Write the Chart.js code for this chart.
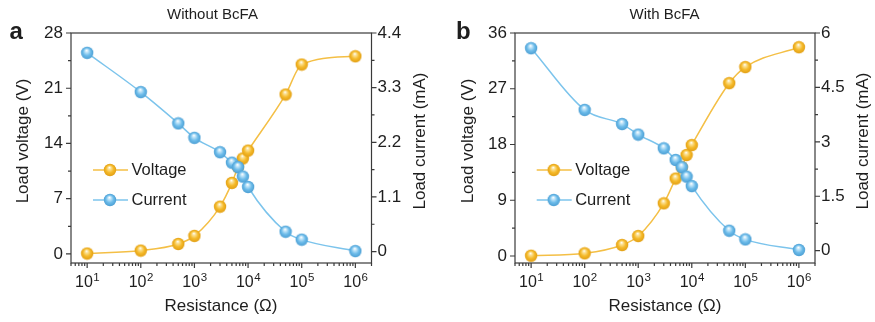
<!DOCTYPE html>
<html>
<head>
<meta charset="utf-8">
<script src="https://cdn.jsdelivr.net/npm/chart.js@4.4.1/dist/chart.umd.min.js"></script>
<style>
  html, body { margin: 0; padding: 0; background: #fff; }
  #wrap { position: relative; width: 875px; height: 322px; }
  canvas { position: absolute; top: 0; }
  #panelA { left: 0; }
  #panelB { left: 440px; }
</style>
</head>
<body>
<div id="wrap">
  <canvas id="panelA" width="440" height="322"></canvas>
  <canvas id="panelB" width="435" height="322"></canvas>
</div>
<script>
// load resistance (ohm), shared by both panels
var resistance = [10, 100, 500, 1000, 3000, 5000, 6500, 8000, 10000, 50000, 100000, 1000000];

// without BcFA
var voltageA = [0.05, 0.42, 1.26, 2.28, 5.99, 9.0, 11.0, 12.1, 13.1, 20.2, 24.0, 25.05];
var currentA = [4.0, 3.21, 2.58, 2.29, 2.0, 1.79, 1.70, 1.51, 1.30, 0.40, 0.24, 0.01];

// with BcFA
var voltageB = [0.05, 0.43, 1.77, 3.22, 8.5, 12.5, 14.3, 16.3, 17.9, 27.9, 30.5, 33.7];
var currentB = [5.58, 3.88, 3.49, 3.20, 2.82, 2.50, 2.30, 2.04, 1.78, 0.55, 0.31, 0.02];

var voltTicksA = [0, 7, 14, 21, 28];
var currTicksA = [0, 1.1, 2.2, 3.3, 4.4];
var voltTicksB = [0, 9, 18, 27, 36];
var currTicksB = [0, 1.5, 3, 4.5, 6];
var decades = [1, 2, 3, 4, 5, 6];

var FONT = '"Liberation Sans", Arial, sans-serif';
var INK = '#1e1e1e';
var AXIS = '#3a3a3a';

var YELLOW_LINE = '#F4BF45';
var BLUE_LINE = '#7CC4EC';

// little shaded ball used as the marker
function sphere(light, base, dark) {
  var s = 14, r = 6.2;
  var c = document.createElement('canvas');
  c.width = s; c.height = s;
  var g = c.getContext('2d');
  var grad = g.createRadialGradient(s / 2 - 0.6, s / 2 - 2.6, 0.2, s / 2, s / 2, r);
  grad.addColorStop(0, '#ffffff');
  grad.addColorStop(0.2, light);
  grad.addColorStop(0.6, base);
  grad.addColorStop(1, dark);
  g.fillStyle = grad;
  g.beginPath();
  g.arc(s / 2, s / 2, r, 0, Math.PI * 2);
  g.fill();
  return c;
}
var yellowBall = sphere('#FCE39A', '#F5BA2A', '#E29F14');
var blueBall = sphere('#C8E8FA', '#6DBCEA', '#4C9FD4');

// "10" with a raised exponent, centred on x
function superLabel(ctx, x, exp) {
  ctx.font = '16px ' + FONT;
  var wb = ctx.measureText('10').width;
  ctx.font = '11.5px ' + FONT;
  var we = ctx.measureText(String(exp)).width;
  var left = x - (wb + we) / 2;
  ctx.textAlign = 'left';
  ctx.textBaseline = 'alphabetic';
  ctx.font = '16px ' + FONT;
  ctx.fillText('10', left, 287);
  ctx.font = '11.5px ' + FONT;
  ctx.fillText(String(exp), left + wb + 0.5, 280.5);
}

function makePanel(id, opt) {
  var axesPlugin = {
    id: 'axesFrame',
    afterDraw: function (chart) {
      var ctx = chart.ctx;
      var a = chart.chartArea;
      var xs = chart.scales.x, yl = chart.scales.y, yr = chart.scales.y1;
      ctx.save();
      ctx.strokeStyle = AXIS;
      ctx.lineWidth = 1.2;
      ctx.strokeRect(a.left, a.top, a.right - a.left, a.bottom - a.top);

      ctx.beginPath();
      // left axis ticks
      opt.voltTicks.forEach(function (v, i) {
        var y = yl.getPixelForValue(v);
        ctx.moveTo(a.left - 5, y); ctx.lineTo(a.left, y);
        if (i < opt.voltTicks.length - 1) {
          var ym = yl.getPixelForValue((v + opt.voltTicks[i + 1]) / 2);
          ctx.moveTo(a.left - 3, ym); ctx.lineTo(a.left, ym);
        }
      });
      // right axis ticks
      opt.currTicks.forEach(function (v, i) {
        var y = yr.getPixelForValue(v);
        ctx.moveTo(a.right, y); ctx.lineTo(a.right + 5, y);
        if (i < opt.currTicks.length - 1) {
          var ym = yr.getPixelForValue((v + opt.currTicks[i + 1]) / 2);
          ctx.moveTo(a.right, ym); ctx.lineTo(a.right + 3, ym);
        }
      });
      // log ticks along the bottom
      for (var e = 0; e <= 6; e++) {
        for (var m = 1; m <= 9; m++) {
          var val = m * Math.pow(10, e);
          if (val < xs.min || val > xs.max) continue;
          var x = xs.getPixelForValue(val);
          var len = m === 1 ? 5 : 3;
          ctx.moveTo(x, a.bottom); ctx.lineTo(x, a.bottom + len);
        }
      }
      ctx.stroke();

      ctx.fillStyle = INK;
      ctx.font = '17px ' + FONT;
      ctx.textBaseline = 'middle';
      ctx.textAlign = 'right';
      opt.voltTicks.forEach(function (v) {
        ctx.fillText(String(v), a.left - 8, yl.getPixelForValue(v));
      });
      ctx.textAlign = 'left';
      opt.currTicks.forEach(function (v) {
        ctx.fillText(String(v), a.right + 6, yr.getPixelForValue(v));
      });
      decades.forEach(function (d) {
        superLabel(ctx, xs.getPixelForValue(Math.pow(10, d)), d);
      });

      // axis titles
      ctx.textAlign = 'center';
      ctx.textBaseline = 'middle';
      ctx.font = '17px ' + FONT;
      ctx.fillText('Resistance (\u03A9)', opt.xTitleX, 306);
      ctx.save();
      ctx.translate(opt.leftTitleX, 141);
      ctx.rotate(-Math.PI / 2);
      ctx.fillText('Load voltage (V)', 0, 0);
      ctx.restore();
      ctx.save();
      ctx.translate(opt.rightTitleX, 141);
      ctx.rotate(-Math.PI / 2);
      ctx.fillText('Load current (mA)', 0, 0);
      ctx.restore();

      // panel heading and letter
      ctx.font = '15px ' + FONT;
      ctx.fillText(opt.title, opt.titleX, 15);
      ctx.font = 'bold 24px ' + FONT;
      ctx.textAlign = 'left';
      ctx.textBaseline = 'alphabetic';
      ctx.fillText(opt.letter, opt.letterX, 39);

      // legend: line + ball + name
      var items = [
        { name: 'Voltage', line: YELLOW_LINE, ball: yellowBall, y: 170 },
        { name: 'Current', line: BLUE_LINE, ball: blueBall, y: 200 }
      ];
      items.forEach(function (it) {
        ctx.strokeStyle = it.line;
        ctx.lineWidth = 1.5;
        ctx.beginPath();
        ctx.moveTo(opt.legendX, it.y);
        ctx.lineTo(opt.legendX + 35, it.y);
        ctx.stroke();
        ctx.drawImage(it.ball, opt.legendX + 17 - it.ball.width / 2, it.y - it.ball.height / 2);
        ctx.fillStyle = INK;
        ctx.font = '16.5px ' + FONT;
        ctx.textBaseline = 'middle';
        ctx.fillText(it.name, opt.legendX + 38.5, it.y);
      });
      ctx.restore();
    }
  };

  return new Chart(document.getElementById(id), {
    type: 'line',
    data: {
      labels: resistance,
      datasets: [
        {
          label: 'Current',
          data: opt.current.map(function (c, i) { return { x: resistance[i], y: c }; }),
          yAxisID: 'y1',
          borderColor: BLUE_LINE,
          borderWidth: 1.5,
          pointStyle: blueBall,
          cubicInterpolationMode: 'monotone',
          order: 0
        },
        {
          label: 'Voltage',
          data: opt.voltage.map(function (v, i) { return { x: resistance[i], y: v }; }),
          yAxisID: 'y',
          borderColor: YELLOW_LINE,
          borderWidth: 1.5,
          pointStyle: yellowBall,
          cubicInterpolationMode: 'monotone',
          order: 1
        }
      ]
    },
    options: {
      responsive: false,
      animation: false,
      events: [],
      layout: { padding: opt.padding },
      plugins: { legend: { display: false }, tooltip: { enabled: false } },
      scales: {
        x: { type: 'logarithmic', min: 5, max: 2000000, display: false },
        y: { type: 'linear', min: opt.voltRange[0], max: opt.voltRange[1], display: false },
        y1: { type: 'linear', min: opt.currRange[0], max: opt.currRange[1], display: false }
      }
    },
    plugins: [axesPlugin]
  });
}

makePanel('panelA', {
  voltage: voltageA, current: currentA,
  voltTicks: voltTicksA, currTicks: currTicksA,
  voltRange: [-1.15, 28], currRange: [-0.23, 4.4],
  padding: { left: 71, right: 68.5, top: 33, bottom: 59 },
  title: 'Without BcFA', titleX: 212.5,
  letter: 'a', letterX: 9.5,
  xTitleX: 221, leftTitleX: 23, rightTitleX: 420,
  legendX: 93
});

makePanel('panelB', {
  voltage: voltageB, current: currentB,
  voltTicks: voltTicksB, currTicks: currTicksB,
  voltRange: [-1.13, 36], currRange: [-0.34, 6],
  padding: { left: 75, right: 60, top: 33, bottom: 59 },
  title: 'With BcFA', titleX: 224.5,
  letter: 'b', letterX: 16,
  xTitleX: 225, leftTitleX: 28.3, rightTitleX: 423.3,
  legendX: 96.7
});
</script>
</body>
</html>
